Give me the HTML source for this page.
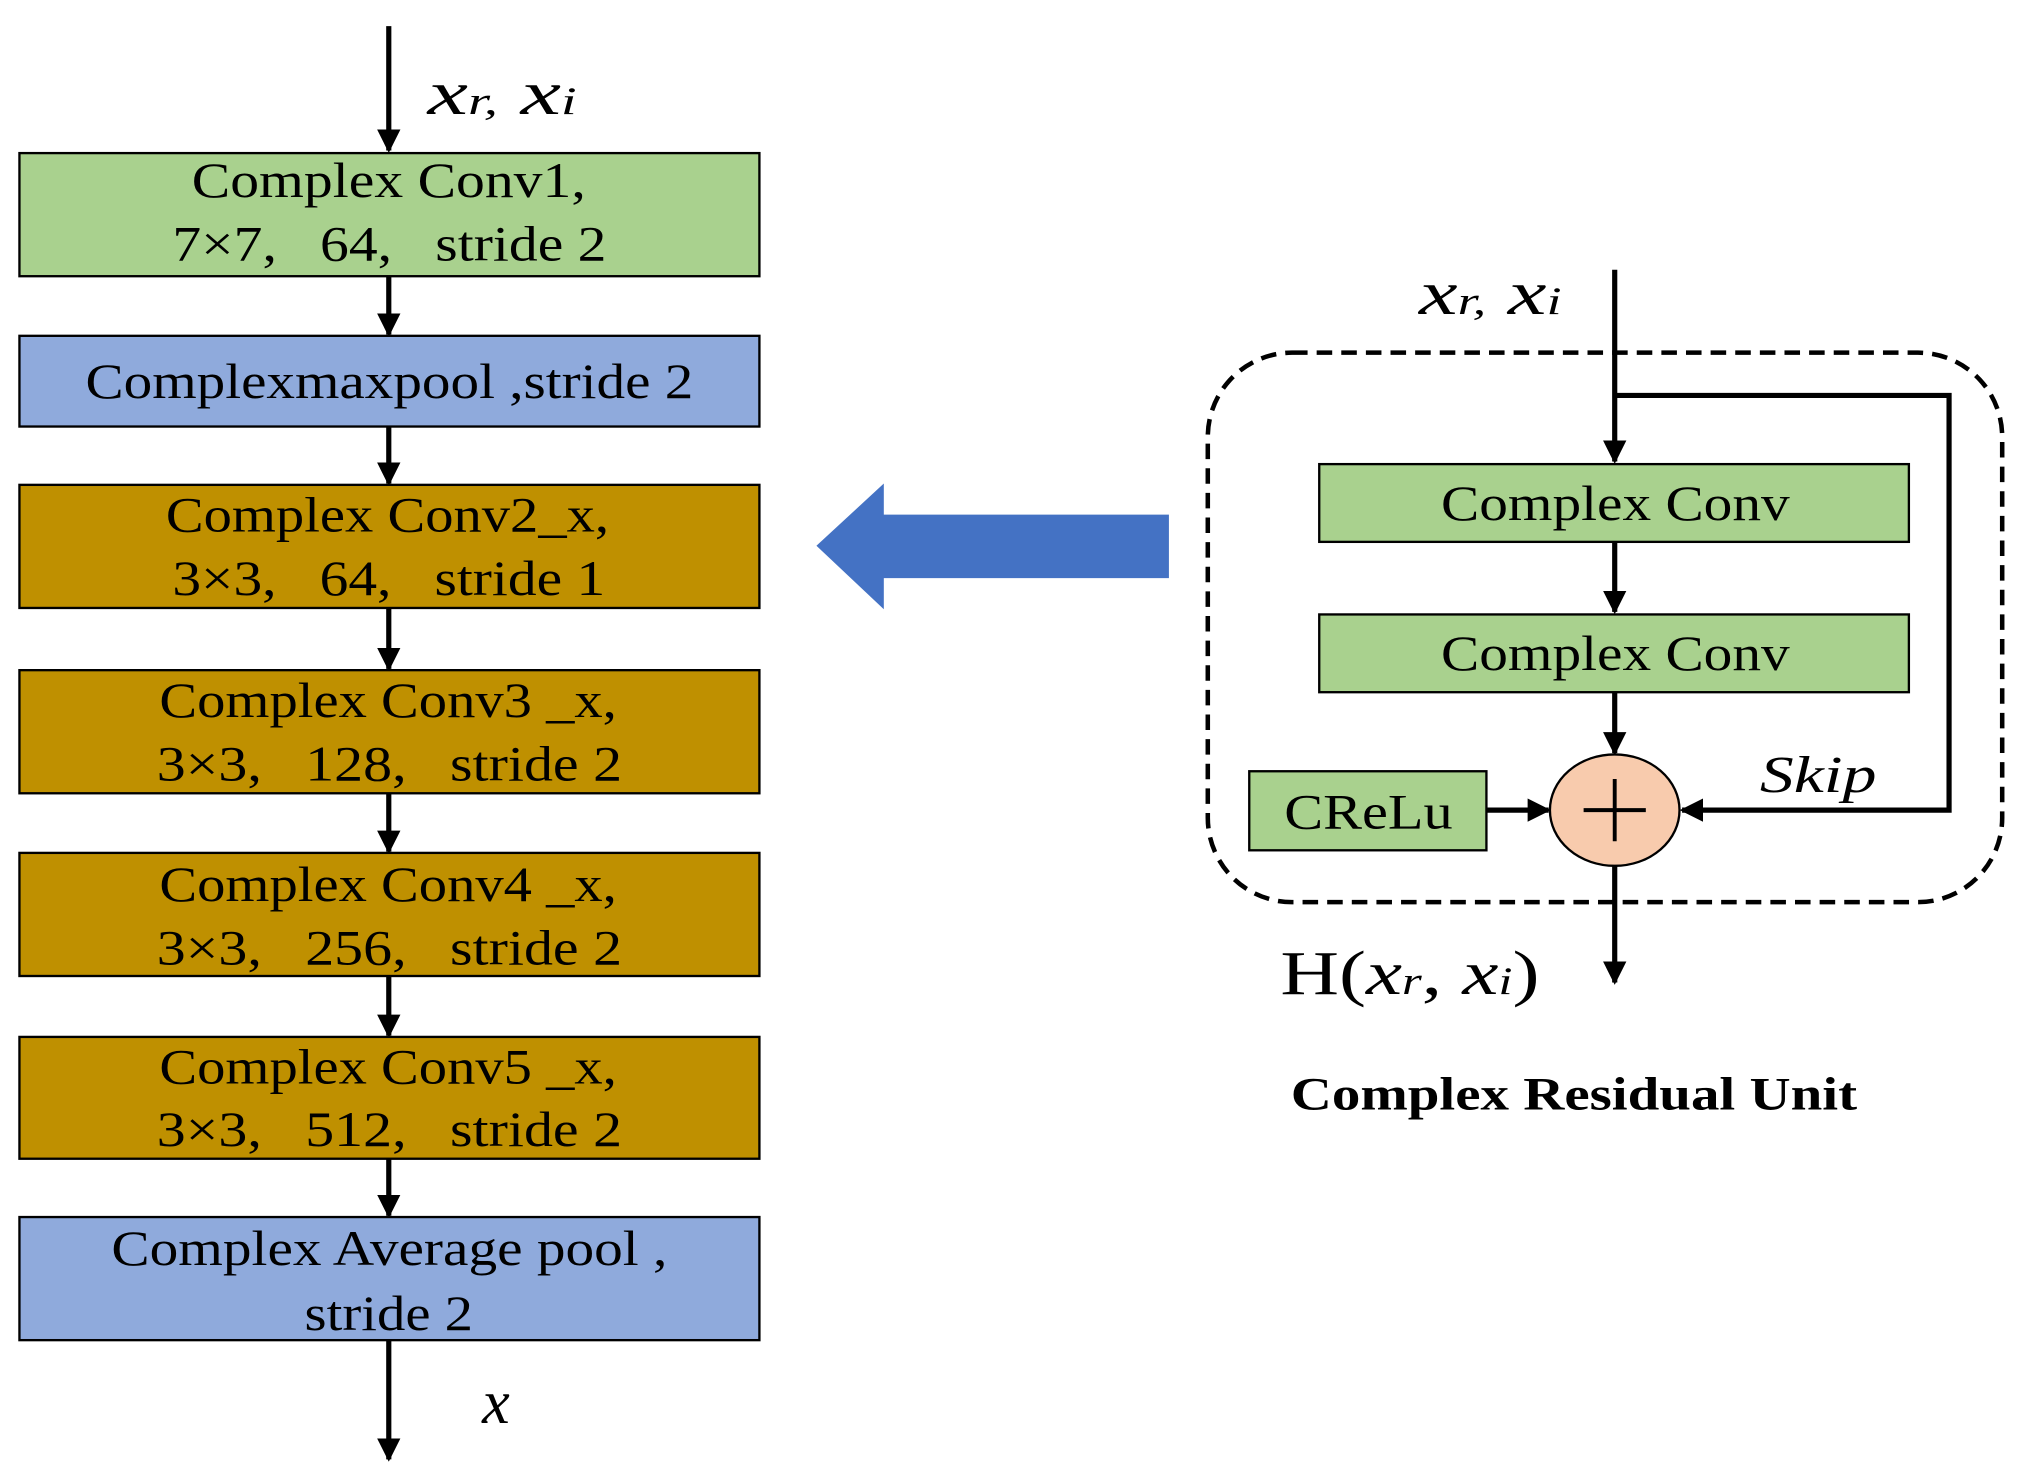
<!DOCTYPE html>
<html><head><meta charset="utf-8"><style>
html,body{margin:0;padding:0;background:#fff;width:2032px;height:1479px;overflow:hidden}
svg{display:block}
text{font-family:"Liberation Serif",serif;fill:#000}
</style></head><body>
<svg width="2032" height="1479" viewBox="0 0 1568 1141" xmlns="http://www.w3.org/2000/svg">
<defs>
<marker id="ah" viewBox="0 0 10 10" refX="9" refY="5" markerWidth="4.5" markerHeight="4.5" orient="auto-start-reverse" markerUnits="strokeWidth">
<path d="M0,0 L10,5 L0,10 Z" fill="#000"/></marker>
</defs>
<g stroke="#000" stroke-width="4" fill="none">
<line x1="300" y1="20" x2="300" y2="116" marker-end="url(#ah)"/>
<line x1="300" y1="213" x2="300" y2="258" marker-end="url(#ah)"/>
<line x1="300" y1="329" x2="300" y2="373" marker-end="url(#ah)"/>
<line x1="300" y1="469" x2="300" y2="516" marker-end="url(#ah)"/>
<line x1="300" y1="612" x2="300" y2="657" marker-end="url(#ah)"/>
<line x1="300" y1="753" x2="300" y2="799" marker-end="url(#ah)"/>
<line x1="300" y1="894" x2="300" y2="938" marker-end="url(#ah)"/>
<line x1="300" y1="1034" x2="300" y2="1126" marker-end="url(#ah)"/>
</g>
<g stroke="#000" stroke-width="1.8">
<rect x="15" y="118" width="571" height="95" fill="#a9d18e"/>
<rect x="15" y="259" width="571" height="70" fill="#8faadc"/>
<rect x="15" y="374" width="571" height="95" fill="#bf9000"/>
<rect x="15" y="517" width="571" height="95" fill="#bf9000"/>
<rect x="15" y="658" width="571" height="95" fill="#bf9000"/>
<rect x="15" y="800" width="571" height="94" fill="#bf9000"/>
<rect x="15" y="939" width="571" height="95" fill="#8faadc"/>
</g>
<g font-size="38" lengthAdjust="spacingAndGlyphs">
<text x="148" y="152" textLength="304" lengthAdjust="spacingAndGlyphs">Complex Conv1,</text>
<text x="133" y="201" textLength="335" lengthAdjust="spacingAndGlyphs" xml:space="preserve">7×7,   64,   stride 2</text>
<text x="66" y="307" textLength="469" lengthAdjust="spacingAndGlyphs">Complexmaxpool ,stride 2</text>
<text x="128" y="410" textLength="342" lengthAdjust="spacingAndGlyphs">Complex Conv2_x,</text>
<text x="133" y="459" textLength="334" lengthAdjust="spacingAndGlyphs" xml:space="preserve">3×3,   64,   stride 1</text>
<text x="123" y="553" textLength="353" lengthAdjust="spacingAndGlyphs">Complex Conv3 _x,</text>
<text x="121" y="602" textLength="359" lengthAdjust="spacingAndGlyphs" xml:space="preserve">3×3,   128,   stride 2</text>
<text x="123" y="695" textLength="353" lengthAdjust="spacingAndGlyphs">Complex Conv4 _x,</text>
<text x="121" y="744" textLength="359" lengthAdjust="spacingAndGlyphs" xml:space="preserve">3×3,   256,   stride 2</text>
<text x="123" y="836" textLength="353" lengthAdjust="spacingAndGlyphs">Complex Conv5 _x,</text>
<text x="121" y="884" textLength="359" lengthAdjust="spacingAndGlyphs" xml:space="preserve">3×3,   512,   stride 2</text>
<text x="86" y="976" textLength="429" lengthAdjust="spacingAndGlyphs">Complex Average pool ,</text>
<text x="235" y="1026" textLength="130" lengthAdjust="spacingAndGlyphs">stride 2</text>
</g>
<text x="330" y="88" font-size="48" font-style="italic" textLength="115" lengthAdjust="spacingAndGlyphs">x<tspan font-size="30">r,</tspan> x<tspan font-size="30">i</tspan></text>
<text x="372" y="1098" font-size="48" font-style="italic">x</text>
<polygon points="630,421 682,373 682,397 902,397 902,446 682,446 682,470" fill="#4472c4"/>
<rect x="932" y="272" width="613" height="424" rx="65" ry="65" fill="none" stroke="#000" stroke-width="3.5" stroke-dasharray="12,7"/>
<g stroke="#000" stroke-width="4" fill="none">
<line x1="1246" y1="208" x2="1246" y2="356" marker-end="url(#ah)"/>
<polyline points="1246,305 1504,305 1504,625 1298,625" marker-end="url(#ah)"/>
<line x1="1246" y1="418" x2="1246" y2="472" marker-end="url(#ah)"/>
<line x1="1246" y1="534" x2="1246" y2="581" marker-end="url(#ah)"/>
<line x1="1147" y1="625" x2="1195" y2="625" marker-end="url(#ah)"/>
<line x1="1246" y1="668" x2="1246" y2="758" marker-end="url(#ah)"/>
</g>
<g stroke="#000" stroke-width="1.8">
<rect x="1018" y="358" width="455" height="60" fill="#a9d18e"/>
<rect x="1018" y="474" width="455" height="60" fill="#a9d18e"/>
<rect x="964" y="595" width="183" height="61" fill="#a9d18e"/>
<ellipse cx="1246" cy="625" rx="50" ry="43" fill="#f8cbad"/>
</g>
<g stroke="#000" stroke-width="3"><line x1="1222" y1="625" x2="1270" y2="625"/><line x1="1246" y1="601" x2="1246" y2="649"/></g>
<g font-size="38">
<text x="1112" y="401" textLength="269" lengthAdjust="spacingAndGlyphs">Complex Conv</text>
<text x="1112" y="517" textLength="269" lengthAdjust="spacingAndGlyphs">Complex Conv</text>
<text x="991" y="639" textLength="130" lengthAdjust="spacingAndGlyphs">CReLu</text>
</g>
<text x="1095" y="242" font-size="48" font-style="italic" textLength="110" lengthAdjust="spacingAndGlyphs">x<tspan font-size="30">r,</tspan> x<tspan font-size="30">i</tspan></text>
<text x="1358" y="611" font-size="40" font-style="italic" textLength="90" lengthAdjust="spacingAndGlyphs">Skip</text>
<text x="988" y="767" font-size="48" textLength="200" lengthAdjust="spacingAndGlyphs">H(<tspan font-style="italic">x</tspan><tspan font-size="30" font-style="italic">r</tspan>,  <tspan font-style="italic">x</tspan><tspan font-size="30" font-style="italic">i</tspan>)</text>
<text x="996" y="856" font-size="36" font-weight="bold" textLength="437" lengthAdjust="spacingAndGlyphs">Complex Residual Unit</text>
</svg>
</body></html>
